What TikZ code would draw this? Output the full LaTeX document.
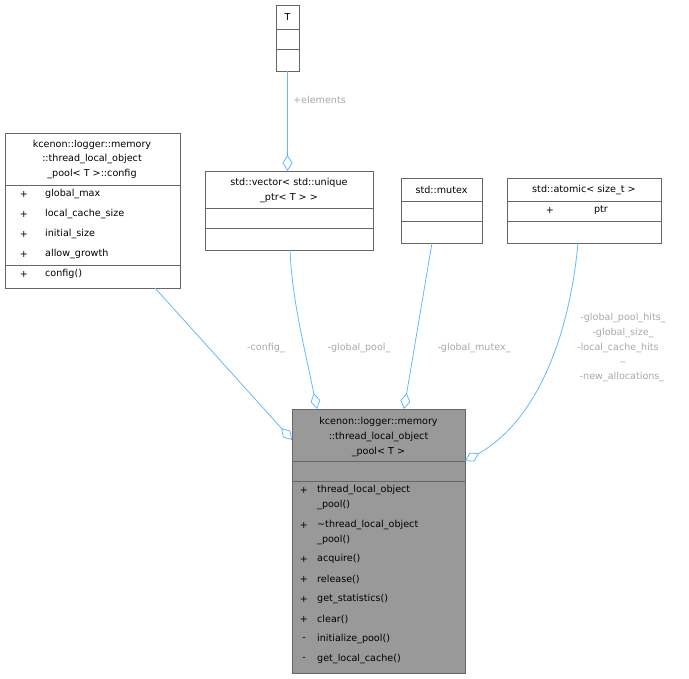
\documentclass[tikz,border=0pt]{standalone}
\usepackage{fontspec}
\setmainfont{DejaVu Sans}
\usetikzlibrary{arrows.meta}
\definecolor{edgec}{HTML}{63B8FF}
\definecolor{labc}{HTML}{A8A8A8}
\definecolor{boxc}{HTML}{666666}
\begin{document}
\begin{tikzpicture}[x=1pt,y=-1pt,
  box/.style={draw=boxc,line width=0.9pt},
  sep/.style={draw=boxc,line width=0.9pt},
  t/.style={inner sep=0pt,font=\fontsize{9.6}{11}\selectfont,text=black},
  lab/.style={inner sep=0pt,font=\fontsize{9.6}{11}\selectfont,text=labc},
  agg/.style={draw=edgec,line width=0.8pt,{Diamond[open,length=16pt,width=10pt]}-}]
\useasboundingbox (0,0) rectangle (689,679);
% T
\draw[box] (276,5) rectangle (299,71);
\draw[sep] (276,29)--(299,29) (276,49)--(299,49);
\node[t] (tT) at (287.5,17) {T};
% config
\draw[box] (5,133) rectangle (180,288);
\draw[sep] (5,185)--(180,185) (5,265)--(180,265);
\node[t] at (92,145) {kcenon::logger::memory};
\node[t] at (92,159) {::thread\_local\_object};
\node[t] at (92,174) {\_pool< T >::config};
\foreach \y/\s in {194/global\_max,214/local\_cache\_size,234/initial\_size,254/allow\_growth,274/config()}{
  \node[t] at (24,\y) {+};
  \node[t,anchor=west] at (45,\y) {\s};}
% vector
\draw[box] (205,171) rectangle (373,250);
\draw[sep] (205,208)--(373,208) (205,228)--(373,228);
\node[t] at (289,183) {std::vector< std::unique};
\node[t] at (289,198) {\_ptr< T > >};
% mutex
\draw[box] (401,178) rectangle (482,243);
\draw[sep] (401,201)--(482,201) (401,221)--(482,221);
\node[t] at (441.5,190) {std::mutex};
% atomic
\draw[box] (507,178) rectangle (661,243);
\draw[sep] (507,201)--(661,201) (507,221)--(661,221);
\node[t] at (584,190) {std::atomic< size\_t >};
\node[t] at (550,210) {+};
\node[t] at (601,210) {ptr};
% main
\draw[box,fill={rgb,255:red,153;green,153;blue,153}] (292,409) rectangle (465,673);
\draw[sep] (292,461)--(465,461) (292,481)--(465,481);
\node[t] at (378.5,422) {kcenon::logger::memory};
\node[t] at (378.5,437) {::thread\_local\_object};
\node[t] at (378.5,452) {\_pool< T >};
\foreach \y/\p/\s in {490/+/thread\_local\_object,505//\_pool(),525/+/\textasciitilde thread\_local\_object,540//\_pool(),559/+/acquire(),579/+/release(),599/+/get\_statistics(),619/+/clear(),639/-/initialize\_pool(),659/-/get\_local\_cache()}{
  \node[t] at (304,\y) {\p};
  \node[t,anchor=west] at (317,\y) {\s};}
% connectors
\coordinate (tB) at (287.5,71);
\coordinate (vT) at (287.5,171);
\coordinate (vB) at (290,250);
\coordinate (cB) at (155,288);
\coordinate (mB) at (432,243);
\coordinate (aB) at (578,243);
\coordinate (mnL) at (292,440);
\coordinate (mnV) at (317,409);
\coordinate (mnM) at (404,409);
\coordinate (mnR) at (465,461);
\draw[agg] (vT) -- (tB);
\draw[agg] (mnL) -- (cB);
\draw[agg] (mnV) .. controls (305,350) and (292,300) .. (vB);
\draw[agg] (mnM) -- (mB);
\draw[agg] (mnR) .. controls (530,425) and (568,350) .. (aB);
% labels
\node[lab,anchor=west] at (293,100) {+elements};
\node[lab] at (266,348) {-config\_};
\node[lab] at (359,348) {-global\_pool\_};
\node[lab] at (474,348) {-global\_mutex\_};
\node[lab] at (623,318) {-global\_pool\_hits\_};
\node[lab] at (623,333) {-global\_size\_};
\node[lab] at (618,348) {-local\_cache\_hits};
\node[lab] at (623,362) {\_};
\node[lab] at (622,377) {-new\_allocations\_};
\end{tikzpicture}
\end{document}
